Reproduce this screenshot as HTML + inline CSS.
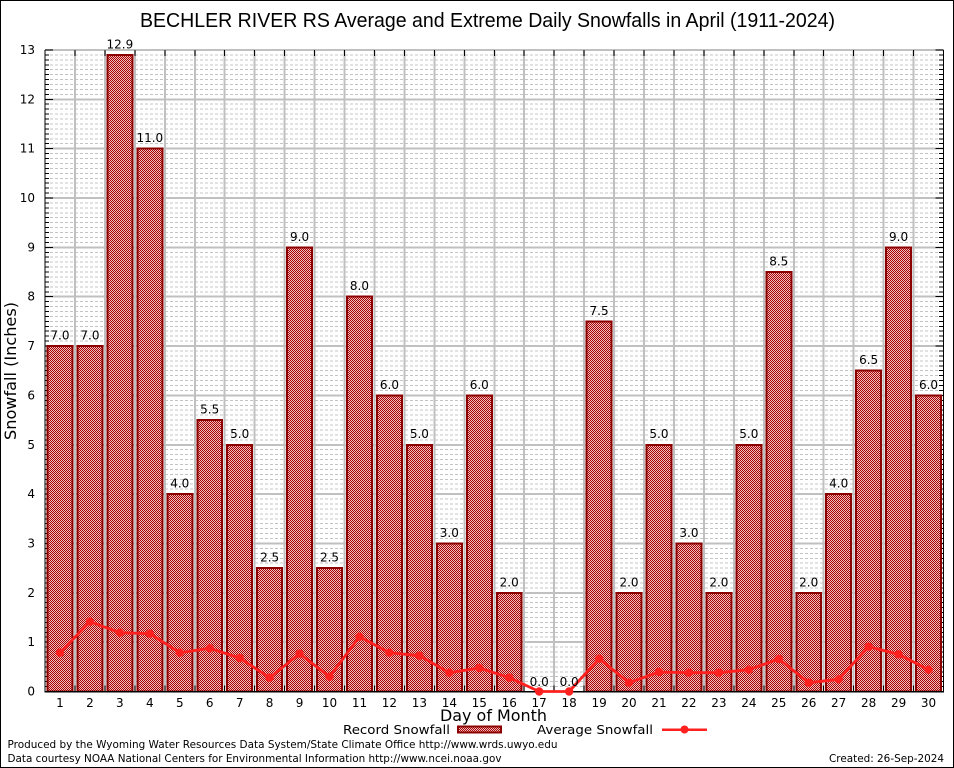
<!DOCTYPE html>
<html><head><meta charset="utf-8"><style>
html,body{margin:0;padding:0;background:#fff;}
svg{display:block;}
text{font-family:"DejaVu Sans","Liberation Sans",sans-serif;}
.ser{font-family:"Liberation Serif","DejaVu Serif",serif;font-size:12px;}
</style></head><body>
<svg width="954" height="768" viewBox="0 0 954 768" xmlns="http://www.w3.org/2000/svg" shape-rendering="crispEdges">
<defs>
<pattern id="chk" width="2" height="2" patternUnits="userSpaceOnUse">
<rect width="2" height="2" fill="#f0c0c0"/><rect width="1" height="1" fill="#a80000"/><rect x="1" y="1" width="1" height="1" fill="#a80000"/>
</pattern>
<g id="mg" stroke="#c4c4c4" stroke-width="1" stroke-dasharray="3,2">
<line x1="45" x2="943" y1="-4.935" y2="-4.935"/>
<line x1="45" x2="943" y1="-9.87" y2="-9.87"/>
<line x1="45" x2="943" y1="-14.805" y2="-14.805"/>
<line x1="45" x2="943" y1="-19.74" y2="-19.74"/>
<line x1="45" x2="943" y1="-24.675" y2="-24.675"/>
<line x1="45" x2="943" y1="-29.61" y2="-29.61"/>
<line x1="45" x2="943" y1="-34.545" y2="-34.545"/>
<line x1="45" x2="943" y1="-39.48" y2="-39.48"/>
<line x1="45" x2="943" y1="-44.415" y2="-44.415"/>
</g>
<g id="mt" stroke="#000" stroke-width="1">
<line x1="45" x2="49" y1="-4.935" y2="-4.935"/>
<line x1="45" x2="49" y1="-9.87" y2="-9.87"/>
<line x1="45" x2="49" y1="-14.805" y2="-14.805"/>
<line x1="45" x2="49" y1="-19.74" y2="-19.74"/>
<line x1="45" x2="49" y1="-24.675" y2="-24.675"/>
<line x1="45" x2="49" y1="-29.61" y2="-29.61"/>
<line x1="45" x2="49" y1="-34.545" y2="-34.545"/>
<line x1="45" x2="49" y1="-39.48" y2="-39.48"/>
<line x1="45" x2="49" y1="-44.415" y2="-44.415"/>
<line x1="939" x2="943" y1="-4.935" y2="-4.935"/>
<line x1="939" x2="943" y1="-9.87" y2="-9.87"/>
<line x1="939" x2="943" y1="-14.805" y2="-14.805"/>
<line x1="939" x2="943" y1="-19.74" y2="-19.74"/>
<line x1="939" x2="943" y1="-24.675" y2="-24.675"/>
<line x1="939" x2="943" y1="-29.61" y2="-29.61"/>
<line x1="939" x2="943" y1="-34.545" y2="-34.545"/>
<line x1="939" x2="943" y1="-39.48" y2="-39.48"/>
<line x1="939" x2="943" y1="-44.415" y2="-44.415"/>
</g>
</defs>
<rect x="0.5" y="0.5" width="953" height="767" fill="#fff" stroke="#000" stroke-width="1"/>

<use href="#mg" transform="translate(0,691.5)"/>
<use href="#mg" transform="translate(0,642.15)"/>
<use href="#mg" transform="translate(0,592.8)"/>
<use href="#mg" transform="translate(0,543.45)"/>
<use href="#mg" transform="translate(0,494.1)"/>
<use href="#mg" transform="translate(0,444.75)"/>
<use href="#mg" transform="translate(0,395.4)"/>
<use href="#mg" transform="translate(0,346.05)"/>
<use href="#mg" transform="translate(0,296.7)"/>
<use href="#mg" transform="translate(0,247.35)"/>
<use href="#mg" transform="translate(0,198)"/>
<use href="#mg" transform="translate(0,148.65)"/>
<use href="#mg" transform="translate(0,99.3)"/>

<g stroke="#c0c0c0" stroke-width="2">
<line x1="45" x2="943.5" y1="642.15" y2="642.15"/>
<line x1="45" x2="943.5" y1="592.8" y2="592.8"/>
<line x1="45" x2="943.5" y1="543.45" y2="543.45"/>
<line x1="45" x2="943.5" y1="494.1" y2="494.1"/>
<line x1="45" x2="943.5" y1="444.75" y2="444.75"/>
<line x1="45" x2="943.5" y1="395.4" y2="395.4"/>
<line x1="45" x2="943.5" y1="346.05" y2="346.05"/>
<line x1="45" x2="943.5" y1="296.7" y2="296.7"/>
<line x1="45" x2="943.5" y1="247.35" y2="247.35"/>
<line x1="45" x2="943.5" y1="198" y2="198"/>
<line x1="45" x2="943.5" y1="148.65" y2="148.65"/>
<line x1="45" x2="943.5" y1="99.3" y2="99.3"/>
<line x1="45" x2="943.5" y1="50" y2="50"/>
<line x1="74.95" x2="74.95" y1="50" y2="691.5"/>
<line x1="104.9" x2="104.9" y1="50" y2="691.5"/>
<line x1="134.85" x2="134.85" y1="50" y2="691.5"/>
<line x1="164.8" x2="164.8" y1="50" y2="691.5"/>
<line x1="194.75" x2="194.75" y1="50" y2="691.5"/>
<line x1="224.7" x2="224.7" y1="50" y2="691.5"/>
<line x1="254.65" x2="254.65" y1="50" y2="691.5"/>
<line x1="284.6" x2="284.6" y1="50" y2="691.5"/>
<line x1="314.55" x2="314.55" y1="50" y2="691.5"/>
<line x1="344.5" x2="344.5" y1="50" y2="691.5"/>
<line x1="374.45" x2="374.45" y1="50" y2="691.5"/>
<line x1="404.4" x2="404.4" y1="50" y2="691.5"/>
<line x1="434.35" x2="434.35" y1="50" y2="691.5"/>
<line x1="464.3" x2="464.3" y1="50" y2="691.5"/>
<line x1="494.25" x2="494.25" y1="50" y2="691.5"/>
<line x1="524.2" x2="524.2" y1="50" y2="691.5"/>
<line x1="554.15" x2="554.15" y1="50" y2="691.5"/>
<line x1="584.1" x2="584.1" y1="50" y2="691.5"/>
<line x1="614.05" x2="614.05" y1="50" y2="691.5"/>
<line x1="644" x2="644" y1="50" y2="691.5"/>
<line x1="673.95" x2="673.95" y1="50" y2="691.5"/>
<line x1="703.9" x2="703.9" y1="50" y2="691.5"/>
<line x1="733.85" x2="733.85" y1="50" y2="691.5"/>
<line x1="763.8" x2="763.8" y1="50" y2="691.5"/>
<line x1="793.75" x2="793.75" y1="50" y2="691.5"/>
<line x1="823.7" x2="823.7" y1="50" y2="691.5"/>
<line x1="853.65" x2="853.65" y1="50" y2="691.5"/>
<line x1="883.6" x2="883.6" y1="50" y2="691.5"/>
<line x1="913.55" x2="913.55" y1="50" y2="691.5"/>
</g>

<use href="#mt" transform="translate(0,691.5)"/>
<use href="#mt" transform="translate(0,642.15)"/>
<use href="#mt" transform="translate(0,592.8)"/>
<use href="#mt" transform="translate(0,543.45)"/>
<use href="#mt" transform="translate(0,494.1)"/>
<use href="#mt" transform="translate(0,444.75)"/>
<use href="#mt" transform="translate(0,395.4)"/>
<use href="#mt" transform="translate(0,346.05)"/>
<use href="#mt" transform="translate(0,296.7)"/>
<use href="#mt" transform="translate(0,247.35)"/>
<use href="#mt" transform="translate(0,198)"/>
<use href="#mt" transform="translate(0,148.65)"/>
<use href="#mt" transform="translate(0,99.3)"/>
<g stroke="#000" stroke-width="1">
<path d="M45 642.15h8M45 592.8h8M45 543.45h8M45 494.1h8M45 444.75h8M45 395.4h8M45 346.05h8M45 296.7h8M45 247.35h8M45 198h8M45 148.65h8M45 99.3h8M45 50h8"/>
<path d="M943.5 642.15h-8M943.5 592.8h-8M943.5 543.45h-8M943.5 494.1h-8M943.5 444.75h-8M943.5 395.4h-8M943.5 346.05h-8M943.5 296.7h-8M943.5 247.35h-8M943.5 198h-8M943.5 148.65h-8M943.5 99.3h-8M943.5 50h-8"/>
<path d="M74.95 50v6M104.9 50v6M134.85 50v6M164.8 50v6M194.75 50v6M224.7 50v6M254.65 50v6M284.6 50v6M314.55 50v6M344.5 50v6M374.45 50v6M404.4 50v6M434.35 50v6M464.3 50v6M494.25 50v6M524.2 50v6M554.15 50v6M584.1 50v6M614.05 50v6M644 50v6M673.95 50v6M703.9 50v6M733.85 50v6M763.8 50v6M793.75 50v6M823.7 50v6M853.65 50v6M883.6 50v6M913.55 50v6"/>
<path d="M74.95 691.5v-6M104.9 691.5v-6M134.85 691.5v-6M164.8 691.5v-6M194.75 691.5v-6M224.7 691.5v-6M254.65 691.5v-6M284.6 691.5v-6M314.55 691.5v-6M344.5 691.5v-6M374.45 691.5v-6M404.4 691.5v-6M434.35 691.5v-6M464.3 691.5v-6M494.25 691.5v-6M524.2 691.5v-6M554.15 691.5v-6M584.1 691.5v-6M614.05 691.5v-6M644 691.5v-6M673.95 691.5v-6M703.9 691.5v-6M733.85 691.5v-6M763.8 691.5v-6M793.75 691.5v-6M823.7 691.5v-6M853.65 691.5v-6M883.6 691.5v-6M913.55 691.5v-6"/>
</g>

<g fill="url(#chk)" stroke="#8c0000" stroke-width="2">
<rect x="47.5" y="346.05" width="24.95" height="345.45"/>
<rect x="77.45" y="346.05" width="24.95" height="345.45"/>
<rect x="107.4" y="54.9" width="24.95" height="636.6"/>
<rect x="137.35" y="148.65" width="24.95" height="542.85"/>
<rect x="167.3" y="494.1" width="24.95" height="197.4"/>
<rect x="197.25" y="420.1" width="24.95" height="271.4"/>
<rect x="227.2" y="444.75" width="24.95" height="246.75"/>
<rect x="257.15" y="568.1" width="24.95" height="123.4"/>
<rect x="287.1" y="247.35" width="24.95" height="444.15"/>
<rect x="317.05" y="568.1" width="24.95" height="123.4"/>
<rect x="347" y="296.7" width="24.95" height="394.8"/>
<rect x="376.95" y="395.4" width="24.95" height="296.1"/>
<rect x="406.9" y="444.75" width="24.95" height="246.75"/>
<rect x="436.85" y="543.45" width="24.95" height="148.05"/>
<rect x="466.8" y="395.4" width="24.95" height="296.1"/>
<rect x="496.75" y="592.8" width="24.95" height="98.7"/>
<rect x="586.6" y="321.4" width="24.95" height="370.1"/>
<rect x="616.55" y="592.8" width="24.95" height="98.7"/>
<rect x="646.5" y="444.75" width="24.95" height="246.75"/>
<rect x="676.45" y="543.45" width="24.95" height="148.05"/>
<rect x="706.4" y="592.8" width="24.95" height="98.7"/>
<rect x="736.35" y="444.75" width="24.95" height="246.75"/>
<rect x="766.3" y="272" width="24.95" height="419.5"/>
<rect x="796.25" y="592.8" width="24.95" height="98.7"/>
<rect x="826.2" y="494.1" width="24.95" height="197.4"/>
<rect x="856.15" y="370.7" width="24.95" height="320.8"/>
<rect x="886.1" y="247.35" width="24.95" height="444.15"/>
<rect x="916.05" y="395.4" width="24.95" height="296.1"/>
</g>

<g stroke="#000" stroke-width="1.3" fill="none">
<line x1="45" y1="50" x2="45" y2="692"/>
<line x1="44.5" y1="691.8" x2="944" y2="691.8"/>
<line x1="943.5" y1="50" x2="943.5" y2="692"/>
</g>

<g shape-rendering="auto">
<polyline fill="none" stroke="#ff2020" stroke-width="2.8" stroke-linejoin="round" points="59.98,652.7 89.93,621.7 119.88,632.7 149.83,633.7 179.78,652.7 209.73,648.3 239.68,658 269.63,677.7 299.58,653.7 329.53,676.7 359.48,636.7 389.43,652.7 419.38,655.7 449.33,672.7 479.28,668 509.23,677.7 539.18,691.5 569.13,691.5 599.08,658.7 629.03,682.7 658.98,672 688.93,672.7 718.88,672.7 748.83,669.7 778.78,659 808.73,682.7 838.68,679.3 868.63,646.7 898.58,654.3 928.53,669.7"/>
<g fill="#ff2020">
<circle cx="59.98" cy="652.7" r="4.2"/><circle cx="89.93" cy="621.7" r="4.2"/><circle cx="119.88" cy="632.7" r="4.2"/><circle cx="149.83" cy="633.7" r="4.2"/><circle cx="179.78" cy="652.7" r="4.2"/><circle cx="209.73" cy="648.3" r="4.2"/><circle cx="239.68" cy="658" r="4.2"/><circle cx="269.63" cy="677.7" r="4.2"/><circle cx="299.58" cy="653.7" r="4.2"/><circle cx="329.53" cy="676.7" r="4.2"/><circle cx="359.48" cy="636.7" r="4.2"/><circle cx="389.43" cy="652.7" r="4.2"/><circle cx="419.38" cy="655.7" r="4.2"/><circle cx="449.33" cy="672.7" r="4.2"/><circle cx="479.28" cy="668" r="4.2"/><circle cx="509.23" cy="677.7" r="4.2"/><circle cx="539.18" cy="691.5" r="4.2"/><circle cx="569.13" cy="691.5" r="4.2"/><circle cx="599.08" cy="658.7" r="4.2"/><circle cx="629.03" cy="682.7" r="4.2"/><circle cx="658.98" cy="672" r="4.2"/><circle cx="688.93" cy="672.7" r="4.2"/><circle cx="718.88" cy="672.7" r="4.2"/><circle cx="748.83" cy="669.7" r="4.2"/><circle cx="778.78" cy="659" r="4.2"/><circle cx="808.73" cy="682.7" r="4.2"/><circle cx="838.68" cy="679.3" r="4.2"/><circle cx="868.63" cy="646.7" r="4.2"/><circle cx="898.58" cy="654.3" r="4.2"/><circle cx="928.53" cy="669.7" r="4.2"/>
</g>
</g>

<g font-size="12" text-anchor="middle" fill="#000">
<text x="59.98" y="339.5">7.0</text>
<text x="89.93" y="339.5">7.0</text>
<text x="119.88" y="48.4">12.9</text>
<text x="149.83" y="142.1">11.0</text>
<text x="179.78" y="487.6">4.0</text>
<text x="209.73" y="413.6">5.5</text>
<text x="239.68" y="438.2">5.0</text>
<text x="269.63" y="561.6">2.5</text>
<text x="299.58" y="240.8">9.0</text>
<text x="329.53" y="561.6">2.5</text>
<text x="359.48" y="290.2">8.0</text>
<text x="389.43" y="388.9">6.0</text>
<text x="419.38" y="438.2">5.0</text>
<text x="449.33" y="536.9">3.0</text>
<text x="479.28" y="388.9">6.0</text>
<text x="509.23" y="586.3">2.0</text>
<text x="539.18" y="686">0.0</text>
<text x="569.13" y="686">0.0</text>
<text x="599.08" y="314.9">7.5</text>
<text x="629.03" y="586.3">2.0</text>
<text x="658.98" y="438.2">5.0</text>
<text x="688.93" y="536.9">3.0</text>
<text x="718.88" y="586.3">2.0</text>
<text x="748.83" y="438.2">5.0</text>
<text x="778.78" y="265.5">8.5</text>
<text x="808.73" y="586.3">2.0</text>
<text x="838.68" y="487.6">4.0</text>
<text x="868.63" y="364.2">6.5</text>
<text x="898.58" y="240.8">9.0</text>
<text x="928.53" y="388.9">6.0</text>
</g>

<g class="ser" text-anchor="end" fill="#000">
<text x="35" y="695.5">0</text>
<text x="35" y="646.2">1</text>
<text x="35" y="596.8">2</text>
<text x="35" y="547.5">3</text>
<text x="35" y="498.1">4</text>
<text x="35" y="448.8">5</text>
<text x="35" y="399.4">6</text>
<text x="35" y="350.1">7</text>
<text x="35" y="300.7">8</text>
<text x="35" y="251.4">9</text>
<text x="35" y="202">10</text>
<text x="35" y="152.7">11</text>
<text x="35" y="103.3">12</text>
<text x="35" y="54">13</text>
</g>

<g class="ser" text-anchor="middle" fill="#000">
<text x="59.98" y="707">1</text><text x="89.93" y="707">2</text><text x="119.88" y="707">3</text><text x="149.83" y="707">4</text><text x="179.78" y="707">5</text><text x="209.73" y="707">6</text><text x="239.68" y="707">7</text><text x="269.63" y="707">8</text><text x="299.58" y="707">9</text><text x="329.53" y="707">10</text><text x="359.48" y="707">11</text><text x="389.43" y="707">12</text><text x="419.38" y="707">13</text><text x="449.33" y="707">14</text><text x="479.28" y="707">15</text><text x="509.23" y="707">16</text><text x="539.18" y="707">17</text><text x="569.13" y="707">18</text><text x="599.08" y="707">19</text><text x="629.03" y="707">20</text><text x="658.98" y="707">21</text><text x="688.93" y="707">22</text><text x="718.88" y="707">23</text><text x="748.83" y="707">24</text><text x="778.78" y="707">25</text><text x="808.73" y="707">26</text><text x="838.68" y="707">27</text><text x="868.63" y="707">28</text><text x="898.58" y="707">29</text><text x="928.53" y="707">30</text>
</g>

<text x="487.5" y="27" font-size="20" text-anchor="middle" style="font-family:'Liberation Sans',Arial,sans-serif" textLength="695" lengthAdjust="spacingAndGlyphs">BECHLER RIVER RS Average and Extreme Daily Snowfalls in April (1911-2024)</text>

<text x="493.5" y="721" font-size="16" text-anchor="middle" textLength="107" lengthAdjust="spacingAndGlyphs">Day of Month</text>
<text transform="translate(16,371) rotate(-90)" font-size="16" text-anchor="middle" textLength="138" lengthAdjust="spacingAndGlyphs">Snowfall (Inches)</text>

<text x="343" y="734" font-size="12.5" textLength="107" lengthAdjust="spacingAndGlyphs">Record Snowfall</text>
<rect x="458" y="726.5" width="43" height="6" fill="url(#chk)" stroke="#8c0000" stroke-width="2"/>
<text x="537" y="734" font-size="12.5" textLength="116" lengthAdjust="spacingAndGlyphs">Average Snowfall</text>
<line x1="662" y1="729.5" x2="707" y2="729.5" stroke="#ff2020" stroke-width="2.5"/>
<circle cx="684.5" cy="729.5" r="4" fill="#ff2020" shape-rendering="auto"/>

<text x="7.5" y="748" font-size="11" textLength="550" lengthAdjust="spacingAndGlyphs">Produced by the Wyoming Water Resources Data System/State Climate Office http://www.wrds.uwyo.edu</text>
<text x="7.5" y="762" font-size="11" textLength="494" lengthAdjust="spacingAndGlyphs">Data courtesy NOAA National Centers for Environmental Information http://www.ncei.noaa.gov</text>
<text x="944" y="762" font-size="11" text-anchor="end" textLength="115" lengthAdjust="spacingAndGlyphs">Created: 26-Sep-2024</text>
</svg>
</body></html>
